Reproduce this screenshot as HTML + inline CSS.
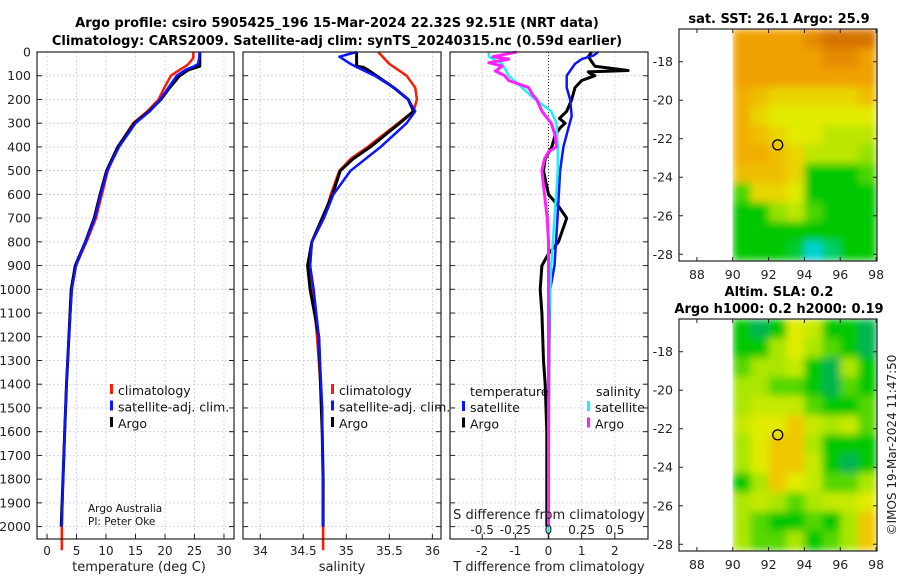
<!DOCTYPE html>
<html><head><meta charset="utf-8"><style>
html,body{margin:0;padding:0;background:#fff;}
svg{display:block;font-family:"DejaVu Sans","Liberation Sans",sans-serif;}
</style></head><body>
<svg id="c" width="900" height="580" viewBox="0 0 900 580">
<defs>
<filter id="blur" x="0" y="0" width="1" height="1"><feGaussianBlur stdDeviation="4" edgeMode="duplicate"/></filter>
<clipPath id="clipSst"><rect x="732" y="29" width="145" height="232"/></clipPath>
<clipPath id="clipSla"><rect x="732" y="319" width="145" height="232"/></clipPath>
</defs>
<text x="337" y="27" text-anchor="middle" font-size="13" font-weight="bold">Argo profile: csiro 5905425_196 15-Mar-2024 22.32S 92.51E (NRT data)</text>
<text x="337" y="45" text-anchor="middle" font-size="13" font-weight="bold">Climatology: CARS2009. Satellite-adj clim: synTS_20240315.nc (0.59d earlier)</text>
<text x="779" y="23" text-anchor="middle" font-size="13" font-weight="bold">sat. SST: 26.1 Argo: 25.9</text>
<text x="779" y="296" text-anchor="middle" font-size="13" font-weight="bold">Altim. SLA: 0.2</text>
<text x="779" y="313" text-anchor="middle" font-size="13" font-weight="bold">Argo h1000: 0.2 h2000: 0.19</text>
<text transform="translate(896,445) rotate(-90)" text-anchor="middle" font-size="12" fill="#222">©IMOS 19-Mar-2024 11:47:50</text>
<g id="plots"></g>
</svg>
<script>
const NS="http://www.w3.org/2000/svg";
const root=document.getElementById('plots');
function el(tag,attrs,parent,txt){const e=document.createElementNS(NS,tag);for(const k in attrs)e.setAttribute(k,attrs[k]);if(txt!==undefined)e.textContent=txt;(parent||root).appendChild(e);return e;}

// ---------- data ----------
const depthTicks=[0,100,200,300,400,500,600,700,800,900,1000,1100,1200,1300,1400,1500,1600,1700,1800,1900,2000];
const tempTicks=[0,5,10,15,20,25,30];
const salTicks=[34,34.5,35,35.5,36];
const tdiffTicks=[-2,-1,0,1,2];
const sdiffTicks=[-0.5,-0.25,0,0.25,0.5];
const sdiffLabels=["-0.5","-0.25","0","0.25","0.5"];

const tArgoDepth=[0,25,50,60,75,100,150,200,250,300,400,500,600,700,800,900,1000,1200,1400,1600,1800,2000];
const tArgo=[25.9,25.9,25.9,25.9,24.0,22.5,20.8,19.3,17.3,14.8,12.0,10.1,9.0,8.0,6.5,4.8,4.1,3.7,3.3,3.0,2.7,2.4];
const tClimDepth=[0,25,50,60,75,100,150,200,250,300,400,500,600,700,800,900,1000,1200,1400,1600,1800,2000,2100];
const tClim=[24.8,24.8,24.0,23.5,22.5,21.0,19.9,18.9,17.0,14.6,12.0,10.3,9.3,8.3,6.7,4.9,4.2,3.7,3.3,3.0,2.7,2.5,2.5];
const tSatDepth=[0,25,50,60,75,100,150,200,250,300,400,500,600,700,800,900,1000,1200,1400,1600,1800,2000];
const tSat=[25.9,25.8,25.6,25.0,23.5,22.0,20.6,19.2,17.4,15.0,12.2,10.2,9.1,8.1,6.5,4.9,4.2,3.7,3.3,3.0,2.7,2.5];

const sArgoDepth=[0,60,65,75,100,150,200,250,300,400,450,500,600,700,800,900,1000,1100,1200,1400,1600,1800,2000];
const sArgo=[35.12,35.12,35.2,35.25,35.35,35.55,35.72,35.78,35.62,35.28,35.08,34.93,34.84,34.72,34.6,34.55,34.58,34.63,34.68,34.7,34.72,34.73,34.73];
const sClimDepth=[0,50,100,150,200,250,300,400,450,500,600,700,800,900,1000,1200,1400,1600,1800,2000,2100];
const sClim=[35.37,35.5,35.7,35.8,35.82,35.78,35.6,35.25,35.05,34.92,34.82,34.74,34.6,34.58,34.61,34.66,34.7,34.72,34.73,34.73,34.73];
const sSatDepth=[0,20,50,60,100,150,200,250,300,400,500,600,700,800,900,1000,1200,1500,2000];
const sSat=[35.12,34.92,35.05,35.1,35.33,35.55,35.72,35.8,35.7,35.4,35.05,34.85,34.74,34.6,34.58,34.62,34.68,34.72,34.73];

const dTArgoDepth=[0,20,40,60,78,84,90,100,120,150,200,250,280,300,320,350,400,450,500,600,650,700,800,850,900,1000,1100,1300,1400,1600,2000];
const dTArgo=[1.3,1.2,1.3,1.4,2.4,1.2,1.25,1.4,1.0,0.8,0.7,0.55,0.33,0.5,0.35,0.2,0.1,-0.1,-0.15,0.0,0.3,0.55,0.3,0.0,-0.2,-0.25,-0.2,-0.15,-0.1,-0.05,-0.05];
const dTSatDepth=[0,15,30,50,100,150,200,270,320,400,500,700,900,1000,1200,2000];
const dTSat=[1.5,1.35,1.0,0.8,0.55,0.55,0.65,0.7,0.6,0.45,0.35,0.27,0.18,0.05,0.02,0.0];
const dSArgoDepth=[0,20,30,45,60,80,100,120,150,180,200,250,300,350,400,420,450,500,600,700,800,1000,2000];
const dSArgo=[-0.24,-0.42,-0.3,-0.45,-0.35,-0.4,-0.33,-0.3,-0.15,-0.12,-0.09,-0.05,0.02,0.05,0.06,0.0,-0.03,-0.05,-0.03,-0.01,0.0,0.0,0.0];
const dSSatDepth=[0,20,50,100,150,200,250,300,400,500,700,900,1200,2000,2050];
const dSSat=[-0.45,-0.45,-0.35,-0.3,-0.2,-0.1,0.02,0.06,0.07,0.07,0.045,0.02,0.0,0.0,0.0];

const lonTicks=[88,90,92,94,96,98];
const latTicks=[-18,-20,-22,-24,-26,-28];
const sstGrid=[
[5,5,5,5,5.5,6,6,6],
[5,5,5,5,5,5.5,5.5,5],
[5,5,5,5,5,5,5,5],
[4.5,4,3.5,3.5,3.5,3.5,3.5,4],
[4.5,3.5,3,3,3,3,3,3],
[4.5,4,3.5,3,3,2.5,2.5,2.5],
[4.5,4.5,4,3.5,2.5,2.5,2.5,2],
[4,4,4,3.5,1,1,1,1.5],
[1.5,3.5,3.5,3,1,1,1,1],
[1,1,2,2.5,1.5,1,1,1],
[1,1,1,1,1,1,1,1],
[1,1,1,0.8,0,0.5,1,1]];
const slaGrid=[
[1,0.5,1,3,2.5,1,1,0.5],
[1,1,2,3,2,1.5,1,0.5],
[1.5,2,2,2.5,1,0.5,2,1],
[2,2,1.5,1.5,1,0.5,1.5,1],
[2,2.5,2.5,2.5,1.5,1,1,1.5],
[2.5,3,3,3.5,2.5,2,2.5,1.5],
[2,3,3.5,3.5,2,1,1,1],
[2,3,3.5,3.5,2.5,1,0.5,1],
[1,2,3.5,3,2.5,1.5,1.5,2],
[2,2.5,2,1.5,2,2.5,2.5,3],
[2,1.5,1,1,1.5,1,2,3.5],
[2,1.5,1.5,2,1,1.5,2,3.5]];
const floatLon=92.51, floatLat=-22.32;

// ---------- profile panels ----------
const TOP=52,BOT=539;
const yD=d=>TOP+d*0.2373;
function panel(name,x0,x1,xmin,xmax){
  const g=el('g',{});
  
  
  const sx=v=>x0+(v-xmin)/(xmax-xmin)*(x1-x0);
  return {g,sx,x0,x1};
}
function frame(p,xticks){
  depthTicks.forEach(d=>{el('line',{x1:p.x0,x2:p.x1,y1:yD(d),y2:yD(d),stroke:'#c8cce8','stroke-width':0.8,'stroke-dasharray':'2,2'},p.g);});
  xticks.forEach(v=>{el('line',{x1:p.sx(v),x2:p.sx(v),y1:TOP,y2:BOT,stroke:'#c8cce8','stroke-width':0.8,'stroke-dasharray':'2,2'},p.g);});
}
function axes(p,xticks,labels,tickBottom){
  el('rect',{x:p.x0,y:TOP,width:p.x1-p.x0,height:BOT-TOP,fill:'none',stroke:'#222','stroke-width':1.2},p.g);
  depthTicks.forEach(d=>{el('line',{x1:p.x0,x2:p.x0+5,y1:yD(d),y2:yD(d),stroke:'#222'},p.g);el('line',{x1:p.x1-5,x2:p.x1,y1:yD(d),y2:yD(d),stroke:'#222'},p.g);});
  if(tickBottom){xticks.forEach((v,i)=>{el('line',{x1:p.sx(v),x2:p.sx(v),y1:BOT,y2:BOT-5,stroke:'#222'},p.g);
    const t=el('text',{x:p.sx(v),y:555,'text-anchor':'middle','font-size':12,fill:'#222'},p.g,labels[i]);
    });}
}
function line(p,depths,vals,color,w,sx){
  const f=sx||p.sx;
  const pts=depths.map((d,i)=>f(vals[i]).toFixed(1)+','+yD(d).toFixed(1)).join(' ');
  return el('polyline',{points:pts,fill:'none',stroke:color,'stroke-width':w,'stroke-linejoin':'round'},p.g);
}
function legend(p,x,y,items){
  items.forEach((it,i)=>{
    el('rect',{x:x,y:y+i*16.5-8,width:3,height:10,fill:it[0]},p.g);
    const t=el('text',{x:x+8,y:y+i*16.5+3,'font-size':12.5,fill:'#111'},p.g,it[1]);
    
  });
}

// Panel 1 temperature
const p1=panel('temperature-panel',37,234,-1.7,31.7);
frame(p1,tempTicks);
let l;
l=line(p1,tClimDepth,tClim,'#ff1a00',2.5);
l=line(p1,tArgoDepth,tArgo,'#000',3);
l=line(p1,tSatDepth,tSat,'#0a14ff',2.5);
axes(p1,tempTicks,tempTicks.map(String),true);
depthTicks.forEach(d=>{const t=el('text',{x:31,y:yD(d)+4.5,'text-anchor':'end','font-size':12.5,fill:'#222'},p1.g,String(d));});
legend(p1,110,392,[['#ff1a00','climatology'],['#0a14ff','satellite-adj. clim.'],['#000','Argo']]);
el('text',{x:88,y:512,'font-size':10.5,fill:'#111'},p1.g,'Argo Australia');
el('text',{x:88,y:525,'font-size':10.5,fill:'#111'},p1.g,'PI: Peter Oke');
el('text',{x:139,y:571,'text-anchor':'middle','font-size':13,fill:'#222'},p1.g,'temperature (deg C)');

// Panel 2 salinity
const p2=panel('salinity-panel',243,441,33.8,36.1);
frame(p2,salTicks);
l=line(p2,sClimDepth,sClim,'#ff1a00',2.5);
l=line(p2,sArgoDepth,sArgo,'#000',3);
l=line(p2,sSatDepth,sSat,'#0a14ff',2.5);
axes(p2,salTicks,salTicks.map(String),true);
legend(p2,331,392,[['#ff1a00','climatology'],['#0a14ff','satellite-adj. clim.'],['#000','Argo']]);
el('text',{x:342,y:571,'text-anchor':'middle','font-size':13,fill:'#222'},p2.g,'salinity');

// Panel 3 differences
const p3=panel('difference-panel',450,648,-2.97,3.0);
const sxS=v=>p3.sx(v*4);
frame(p3,tdiffTicks);
el('line',{x1:p3.sx(0),x2:p3.sx(0),y1:TOP,y2:BOT,stroke:'#333','stroke-width':1,'stroke-dasharray':'1,2'},p3.g);
l=line(p3,dTArgoDepth,dTArgo,'#000',3);
l=line(p3,dTSatDepth,dTSat,'#0a14ff',2.5);
l=line(p3,dSSatDepth,dSSat,'#20f0f0',2.5,sxS);
l=line(p3,dSArgoDepth,dSArgo,'#ff20ff',3,sxS);
axes(p3,tdiffTicks,tdiffTicks.map(String),true);
sdiffTicks.forEach((v,i)=>{const t=el('text',{x:sxS(v),y:534,'text-anchor':'middle','font-size':12,fill:'#222'},p3.g,sdiffLabels[i]);});
el('text',{x:549,y:519,'text-anchor':'middle','font-size':13,fill:'#222'},p3.g,'S difference from climatology');
el('text',{x:549,y:571,'text-anchor':'middle','font-size':13,fill:'#222'},p3.g,'T difference from climatology');
el('text',{x:470,y:396,'font-size':12.5,fill:'#111'},p3.g,'temperature');
el('text',{x:596,y:396,'font-size':12.5,fill:'#111'},p3.g,'salinity');
legend(p3,462,409,[['#0a14ff','satellite'],['#000','Argo']]);
legend(p3,587,409,[['#20f0f0','satellite'],['#ff20ff','Argo']]);

// ---------- maps ----------
const sstStops=[[0,[0,210,210]],[1,[0,200,0]],[2,[150,225,0]],[3,[225,235,0]],[4,[240,190,0]],[5,[240,160,0]],[6,[215,115,0]]];
const slaStops=[[0,[0,170,120]],[0.5,[0,180,80]],[1,[0,200,0]],[2,[170,230,0]],[3,[225,235,0]],[3.5,[240,200,0]],[4,[240,170,0]]];
function cmap(stops,v){
  for(let i=1;i<stops.length;i++){if(v<=stops[i][0]){const a=stops[i-1],b=stops[i];const t=(v-a[0])/(b[0]-a[0]);
    return 'rgb('+a[1].map((c,k)=>Math.round(c+(b[1][k]-c)*t)).join(',')+')';}}
  return 'rgb('+stops[stops.length-1][1].join(',')+')';
}
function map(name,y0,y1,latTop,latBot,grid,stops,clip){
  const x0=679,x1=877,lonMin=87,lonMax=98.05;
  const g=el('g',{});
  
  
  const sx=v=>x0+(v-lonMin)/(lonMax-lonMin)*(x1-x0);
  const sy=v=>y0+(latTop-v)/(latTop-latBot)*(y1-y0);
  const cg=el('g',{'clip-path':'url(#'+clip+')'},g);
  const fg=el('g',{filter:'url(#blur)'},cg);
  grid.forEach((row,r)=>row.forEach((v,c)=>{
    const la=-16.3-r, lo=90+c;
    const cell=el('rect',{x:sx(lo).toFixed(1),y:sy(la).toFixed(1),width:(sx(lo+1)-sx(lo)+0.6).toFixed(1),height:(sy(la-1)-sy(la)+0.6).toFixed(1),fill:cmap(stops,v)},fg);
    
    
  }));
  el('rect',{x:x0,y:y0,width:x1-x0,height:y1-y0,fill:'none',stroke:'#222','stroke-width':1.2},g);
  lonTicks.forEach(v=>{el('line',{x1:sx(v),x2:sx(v),y1:y1,y2:y1-4,stroke:'#222'},g);el('line',{x1:sx(v),x2:sx(v),y1:y0,y2:y0+4,stroke:'#222'},g);
    const t=el('text',{x:sx(v),y:y1+18,'text-anchor':'middle','font-size':12.5,fill:'#222'},g,String(v));});
  latTicks.forEach(v=>{el('line',{x1:x0,x2:x0+4,y1:sy(v),y2:sy(v),stroke:'#222'},g);el('line',{x1:x1-4,x2:x1,y1:sy(v),y2:sy(v),stroke:'#222'},g);
    const t=el('text',{x:x0-6,y:sy(v)+4.5,'text-anchor':'end','font-size':12.5,fill:'#222'},g,String(v));});
  const c=el('circle',{cx:sx(floatLon),cy:sy(floatLat),r:5,fill:'none',stroke:'#000','stroke-width':1.3},g);
  
  
}
map('sst-map',29,261,-16.3,-28.35,sstGrid,sstStops,'clipSst');
map('sla-map',319,551,-16.3,-28.35,slaGrid,slaStops,'clipSla');
</script>
</body></html>
